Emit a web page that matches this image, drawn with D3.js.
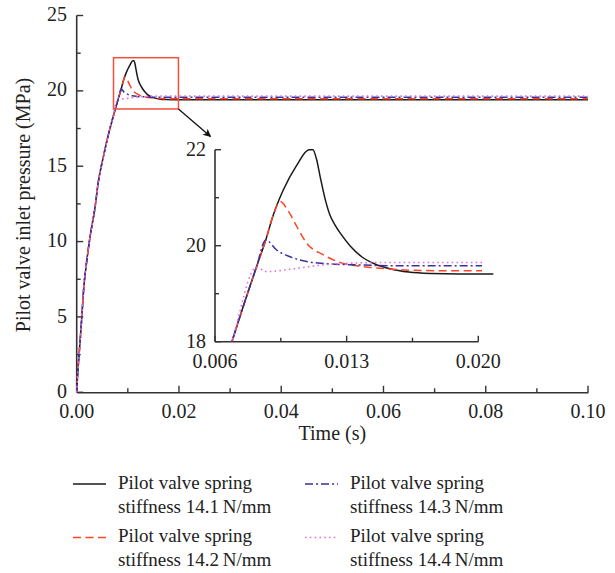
<!DOCTYPE html>
<html>
<head>
<meta charset="utf-8">
<script src="https://cdn.jsdelivr.net/npm/d3@7"></script>
<style>
  body { margin: 0; background: #fff; }
  svg { display: block; }
  text { font-family: "Liberation Serif", "Times New Roman", serif; fill: #222; }
</style>
</head>
<body>
<svg id="chart" width="615" height="573"></svg>
<script>
// ---------------- data ----------------
const seriesNames = [
  ["Pilot valve spring", "stiffness 14.1\u2009N/mm"],
  ["Pilot valve spring", "stiffness 14.2\u2009N/mm"],
  ["Pilot valve spring", "stiffness 14.3\u2009N/mm"],
  ["Pilot valve spring", "stiffness 14.4\u2009N/mm"]
];
// [time (s), pressure (MPa)]
const stiffness141 = [[0,0],[0.0002,1.3],[0.00045,2.4],[0.001,5.0],[0.0014,7.0],[0.002,8.8],[0.0026,10.3],[0.0036,12.3],[0.0042,13.9],[0.0052,15.6],[0.0062,17.1],[0.0069,18.0],[0.0082,19.55],[0.0087,20.12],[0.0091,20.64],[0.00963,21.16],[0.01035,21.68],[0.0110,22.0],[0.0112,22.0],[0.0114,21.8],[0.01159,21.44],[0.01185,20.98],[0.0121,20.65],[0.0124,20.42],[0.0127,20.24],[0.0132,19.99],[0.0138,19.77],[0.0145,19.62],[0.0153,19.52],[0.0163,19.45],[0.0175,19.42],[0.019,19.41],[0.1,19.41]];
const stiffness142 = [[0,0],[0.0002,1.3],[0.00045,2.4],[0.001,5.0],[0.0014,7.0],[0.002,8.8],[0.0026,10.3],[0.0036,12.3],[0.0042,13.9],[0.0052,15.6],[0.0062,17.1],[0.0069,18.0],[0.0082,19.55],[0.0087,20.12],[0.0091,20.64],[0.00946,20.92],[0.0099,20.72],[0.01035,20.4],[0.01088,20.05],[0.01176,19.81],[0.01265,19.65],[0.01354,19.58],[0.01477,19.53],[0.0163,19.49],[0.018,19.48],[0.1,19.48]];
const stiffness143 = [[0,0],[0.0002,1.3],[0.00045,2.4],[0.001,5.0],[0.0014,7.0],[0.002,8.8],[0.0026,10.3],[0.0036,12.3],[0.0042,13.9],[0.0052,15.6],[0.0062,17.1],[0.0069,18.0],[0.0082,19.55],[0.0087,20.12],[0.00928,19.91],[0.00999,19.77],[0.01088,19.67],[0.01176,19.63],[0.01354,19.6],[0.016,19.58],[0.1,19.58]];
const stiffness144 = [[0,0],[0.0002,1.3],[0.00045,2.4],[0.001,5.0],[0.0014,7.0],[0.002,8.8],[0.0026,10.3],[0.0036,12.3],[0.0042,13.9],[0.0052,15.6],[0.0062,17.1],[0.0069,18.0],[0.0082,19.55],[0.00875,19.46],[0.00999,19.51],[0.01176,19.6],[0.01283,19.63],[0.015,19.65],[0.1,19.65]];
const allSeries = [stiffness141, stiffness142, stiffness143, stiffness144];

const xTicks = [0, 0.02, 0.04, 0.06, 0.08, 0.10];
const yTicks = [0, 5, 10, 15, 20, 25];
const insetXTicks = [0.006, 0.013, 0.020];
const insetYTicks = [18, 20, 22];
const insetEnd = [0.0208, 0.0202, 0.0202, 0.0202];
const zoomBox = { t0: 0.0072, t1: 0.0199, p0: 18.8, p1: 22.2 };

// ---------------- styles ----------------
const colors = ["#1a1a1a", "#ff4426", "#3a30a0", "#e070dc"];
const dashes = [null, "8,4.5", "8,3,2,3", "1.6,3.2"];
const widths = [1.5, 1.5, 1.5, 1.6];

const svg = d3.select("#chart");
const font = 20;

// ---------------- main axes ----------------
const x = d3.scaleLinear().domain([0, 0.1]).range([76.7, 588]);
const y = d3.scaleLinear().domain([0, 25]).range([392.3, 15.5]);

const axisColor = "#333";
const gAx = svg.append("g");
// x axis
gAx.append("g").attr("transform", `translate(0,${y(0)})`)
  .call(d3.axisBottom(x).tickValues(d3.range(0, 0.1001, 0.01)).tickSize(0).tickFormat(""))
  .call(g => g.select(".domain").attr("stroke", axisColor).attr("stroke-width", 1.6));
gAx.append("g").selectAll("line").data(d3.range(0, 11))
  .join("line")
  .attr("x1", i => x(i * 0.01)).attr("x2", i => x(i * 0.01))
  .attr("y1", y(0)).attr("y2", i => y(0) - (i % 2 === 0 ? 6.5 : 4))
  .attr("stroke", axisColor).attr("stroke-width", 1.4);
gAx.append("g").selectAll("text").data(xTicks).join("text")
  .attr("x", d => x(d)).attr("y", 418).attr("text-anchor", "middle")
  .attr("font-size", font).text(d => d3.format(".2f")(d));
// y axis
gAx.append("line").attr("x1", x(0)).attr("x2", x(0)).attr("y1", y(0)).attr("y2", y(25))
  .attr("stroke", axisColor).attr("stroke-width", 1.6);
gAx.append("g").selectAll("line").data(d3.range(0, 11))
  .join("line")
  .attr("x1", x(0)).attr("x2", i => x(0) + (i % 2 === 0 ? 6.5 : 4))
  .attr("y1", i => y(i * 2.5)).attr("y2", i => y(i * 2.5))
  .attr("stroke", axisColor).attr("stroke-width", 1.4);
gAx.append("g").selectAll("text").data(yTicks).join("text")
  .attr("x", 67).attr("y", d => y(d)).attr("dy", "0.28em").attr("text-anchor", "end")
  .attr("font-size", font).text(d => d);

// titles
svg.append("text").attr("x", (x(0) + x(0.1)) / 2).attr("y", 440)
  .attr("text-anchor", "middle").attr("font-size", font).text("Time (s)");
svg.append("text").attr("transform", "translate(30,205) rotate(-90)")
  .attr("text-anchor", "middle").attr("font-size", font).text("Pilot valve inlet pressure (MPa)");

// main lines
const line = d3.line().x(d => x(d[0])).y(d => y(d[1])).curve(d3.curveMonotoneX);
allSeries.forEach((s, i) => {
  svg.append("path").datum(s).attr("d", line)
    .attr("fill", "none").attr("stroke", colors[i]).attr("stroke-width", widths[i])
    .attr("stroke-dasharray", dashes[i]).attr("stroke-linejoin", "round");
});

// zoom box
svg.append("rect")
  .attr("x", x(zoomBox.t0)).attr("y", y(zoomBox.p1))
  .attr("width", x(zoomBox.t1) - x(zoomBox.t0)).attr("height", y(zoomBox.p0) - y(zoomBox.p1))
  .attr("fill", "none").attr("stroke", "#f0503c").attr("stroke-width", 1.5);

// arrow
const defs = svg.append("defs");
defs.append("marker").attr("id", "ah").attr("viewBox", "0 0 10 10")
  .attr("refX", 9).attr("refY", 5).attr("markerWidth", 10).attr("markerHeight", 8)
  .attr("orient", "auto").attr("markerUnits", "userSpaceOnUse")
  .append("path").attr("d", "M0,0 L10,5 L0,10 L2.5,5 Z").attr("fill", "#111");
svg.append("line").attr("x1", x(zoomBox.t1)).attr("y1", y(zoomBox.p0))
  .attr("x2", 210.5).attr("y2", 136.5)
  .attr("stroke", "#111").attr("stroke-width", 1.3).attr("marker-end", "url(#ah)");

// ---------------- inset ----------------
const xi = d3.scaleLinear().domain([0.006, 0.020]).range([215, 478.3]);
const yi = d3.scaleLinear().domain([18, 22]).range([341.7, 149.7]);

const gi = svg.append("g");
gi.append("line").attr("x1", xi.range()[0]).attr("x2", xi.range()[1]).attr("y1", yi(18)).attr("y2", yi(18))
  .attr("stroke", axisColor).attr("stroke-width", 1.6);
gi.append("line").attr("x1", xi(0.006)).attr("x2", xi(0.006)).attr("y1", yi(18)).attr("y2", yi(22))
  .attr("stroke", axisColor).attr("stroke-width", 1.6);
gi.selectAll(".xt").data(d3.range(0, 5)).join("line")
  .attr("x1", i => xi(0.006 + i * 0.0035)).attr("x2", i => xi(0.006 + i * 0.0035))
  .attr("y1", yi(18)).attr("y2", i => yi(18) - (i % 2 === 0 ? 6 : 4))
  .attr("stroke", axisColor).attr("stroke-width", 1.4);
gi.selectAll(".yt").data(d3.range(0, 5)).join("line")
  .attr("x1", xi(0.006)).attr("x2", i => xi(0.006) + (i % 2 === 0 ? 6 : 4))
  .attr("y1", i => yi(18 + i)).attr("y2", i => yi(18 + i))
  .attr("stroke", axisColor).attr("stroke-width", 1.4);
gi.selectAll(".xl").data(insetXTicks).join("text")
  .attr("x", d => xi(d)).attr("y", 368).attr("text-anchor", "middle")
  .attr("font-size", font).text(d => d3.format(".3f")(d));
gi.selectAll(".yl").data(insetYTicks).join("text")
  .attr("x", 206).attr("y", d => yi(d)).attr("dy", "0.3em").attr("text-anchor", "end")
  .attr("font-size", font).text(d => d);

const lineI = d3.line().x(d => xi(d[0])).y(d => yi(d[1])).curve(d3.curveMonotoneX);
allSeries.forEach((s, i) => {
  defs.append("clipPath").attr("id", "ci" + i).append("rect")
    .attr("x", xi(0.006)).attr("y", yi(22.4))
    .attr("width", xi(insetEnd[i]) - xi(0.006)).attr("height", yi(18) - yi(22.4));
  gi.append("path").datum(s).attr("d", lineI).attr("clip-path", `url(#ci${i})`)
    .attr("fill", "none").attr("stroke", colors[i]).attr("stroke-width", widths[i])
    .attr("stroke-dasharray", dashes[i]).attr("stroke-linejoin", "round");
});

// ---------------- legend ----------------
const legendPos = [
  { lx: 73, tx: 118, ly: 484, ty: 488.5 },
  { lx: 73, tx: 118, ly: 537.5, ty: 542 },
  { lx: 305, tx: 350, ly: 484, ty: 488.5 },
  { lx: 305, tx: 350, ly: 537.5, ty: 542 }
];
seriesNames.forEach((nm, i) => {
  const p = legendPos[i];
  svg.append("line").attr("x1", p.lx).attr("x2", p.lx + 33).attr("y1", p.ly).attr("y2", p.ly)
    .attr("stroke", colors[i]).attr("stroke-width", widths[i]).attr("stroke-dasharray", dashes[i]);
  const t = svg.append("text").attr("x", p.tx).attr("y", p.ty).attr("font-size", 19);
  t.append("tspan").attr("x", p.tx).text(nm[0]);
  t.append("tspan").attr("x", p.tx).attr("dy", 24).text(nm[1]);
});
</script>
</body>
</html>
